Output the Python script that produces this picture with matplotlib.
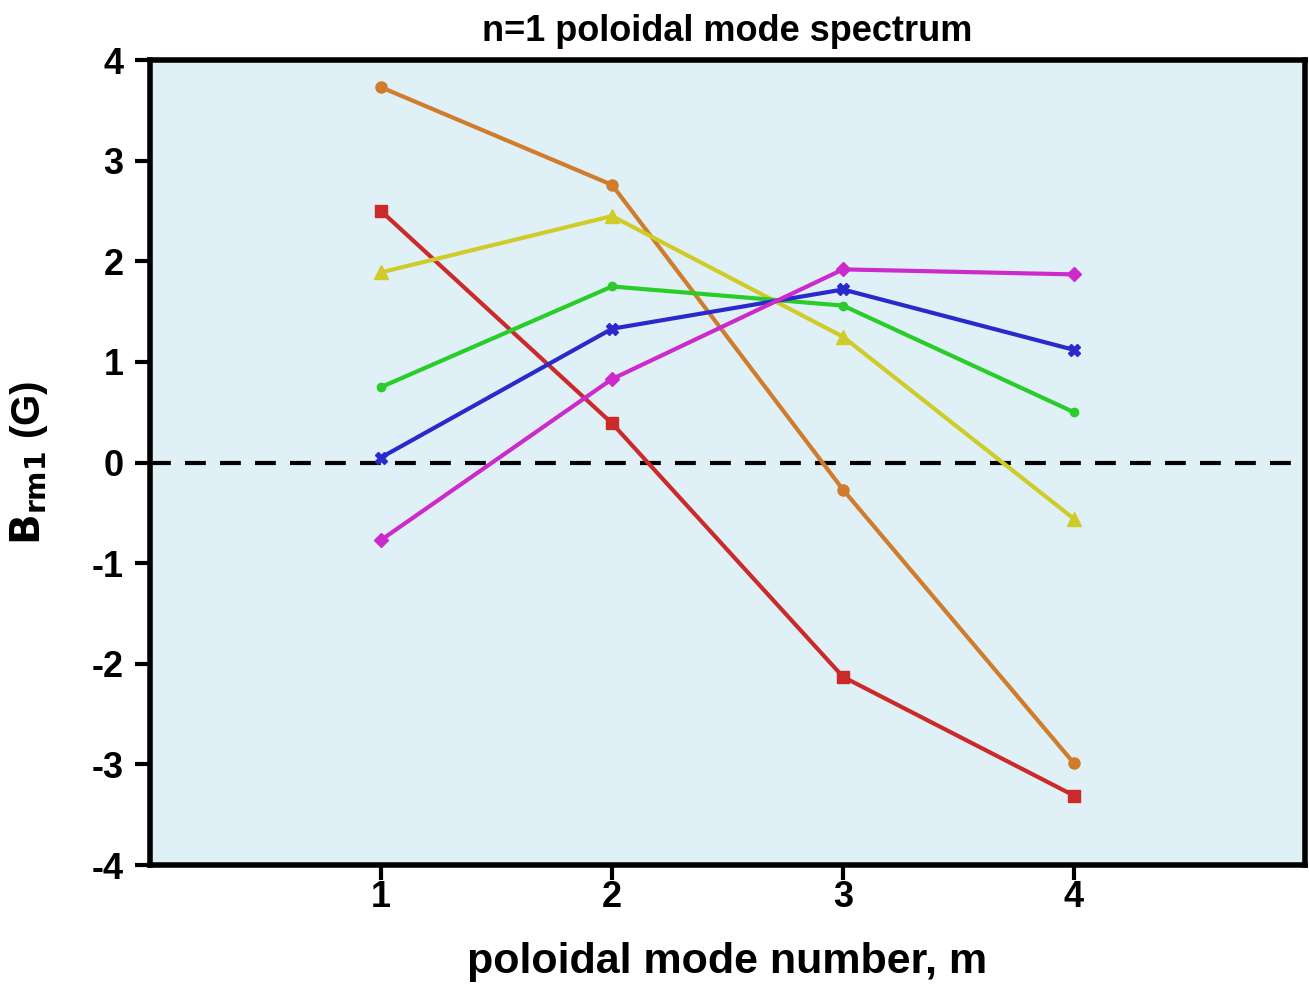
import numpy as np
import matplotlib
matplotlib.use("Agg")
import matplotlib.pyplot as plt

plt.rcParams['font.family'] = ['Liberation Sans', 'DejaVu Sans']
plt.rcParams['axes.unicode_minus'] = False

m = [1, 2, 3, 4]
orange = [3.73, 2.76, -0.27, -2.99]
red = [2.50, 0.39, -2.13, -3.31]
yellow = [1.89, 2.45, 1.25, -0.56]
green = [0.75, 1.75, 1.56, 0.50]
blue = [0.05, 1.33, 1.72, 1.12]
magenta = [-0.77, 0.83, 1.92, 1.87]

series = [
    (orange, '#d07c2c', 'o', 8),
    (red, '#cc2a2a', 's', 8),
    (yellow, '#cfcc2a', '^', 10),
    (green, '#2acc2a', 'o', 6),
    (blue, '#2a2acc', 'X', 8),
    (magenta, '#cc2acc', 'D', 7),
]

fig = plt.figure(figsize=(13.09, 9.85), dpi=100)
ax = fig.add_axes([0.1146, 0.1218, 0.8824, 0.8172])
ax.set_facecolor('#dff1f7')

ax.axhline(0, color='black', lw=3, ls=(0, (5, 3.4)), zorder=1)
for ys, c, mk, ms in series:
    ax.plot(m, ys, color=c, lw=3, marker=mk, ms=ms, zorder=3)

ax.set_xlim(0, 5)
ax.set_ylim(-4, 4)
ax.set_xticks([1, 2, 3, 4])
ax.set_yticks(range(-4, 5))
for s in ax.spines.values():
    s.set_linewidth(4)
ax.tick_params(direction='out', length=11, width=3, labelsize=26)
ax.tick_params(axis='y', pad=8)
ax.tick_params(axis='x', pad=0)
for lbl in ax.get_xticklabels() + ax.get_yticklabels():
    lbl.set_fontweight('bold')

ax.set_title('n=1 poloidal mode spectrum', fontsize=26, fontweight='bold', pad=14)
ax.set_xlabel('poloidal mode number, m', fontsize=31, fontweight='bold', labelpad=19)
ax.set_ylabel(r'$\mathbf{B_{rm1}}$ (G)', fontsize=29, fontweight='bold', labelpad=30)

fig.savefig('out.png', dpi=100)
